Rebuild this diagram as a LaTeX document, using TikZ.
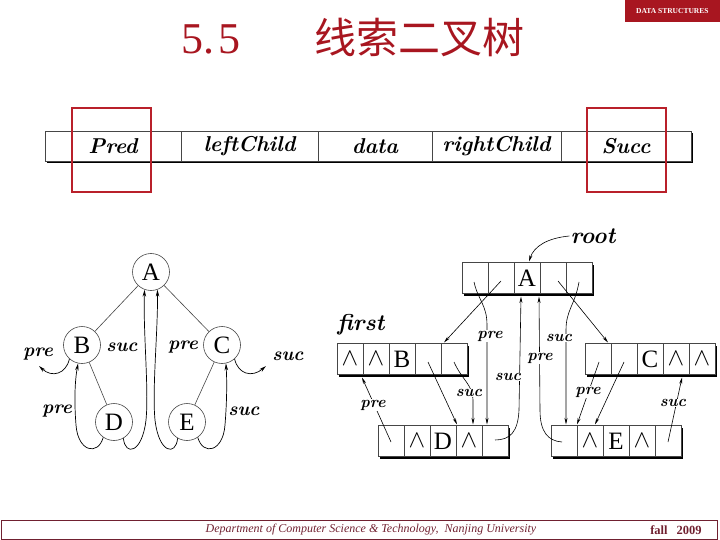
\documentclass[tikz,border=0pt]{standalone}
\usepackage{fontspec}
\newfontfamily\libserif{Liberation Serif}
\newfontfamily\cjk{Noto Sans CJK SC}
\usetikzlibrary{arrows.meta,calc}
\definecolor{titlered}{RGB}{168,22,32}
\definecolor{boxred}{RGB}{185,32,42}
\definecolor{footred}{RGB}{112,32,48}
\definecolor{linegray}{RGB}{70,70,70}
\newcommand\mywedge{{\fontsize{25}{25}\selectfont$\wedge$}}
\newcommand\myrec[8]{%
  \fill[black] (#2+2,#3-13.5) rectangle (#2+132,#3+17.5);
  \node[cell] (#1-1) at (#2,#3) {#4};
  \node[cell] (#1-2) at (#1-1.east) {#5};
  \node[cell] (#1-3) at (#1-2.east) {#6};
  \node[cell] (#1-4) at (#1-3.east) {#7};
  \node[cell] (#1-5) at (#1-4.east) {#8};
}
\begin{document}
\begin{tikzpicture}[x=1pt,y=-1pt,
  cell/.style={draw=linegray, line width=0.6pt, fill=white, anchor=west, outer sep=0pt,
    minimum width=26pt, minimum height=31pt, inner sep=0pt,
    font=\libserif\fontsize{25}{25}\selectfont},
  barcell/.style={draw=linegray, line width=0.6pt, fill=white, anchor=west, outer sep=0pt,
    minimum height=30pt, inner sep=0pt, font=\bfseries\itshape\fontsize{21.5}{21.5}\selectfont},
  redbox/.style={draw=boxred, line width=2.6pt, minimum width=79pt, minimum height=84pt, inner sep=0pt},
  circ/.style={circle, draw=linegray, line width=0.6pt, minimum size=37pt, inner sep=0pt,
    font=\libserif\fontsize{25}{25}\selectfont},
  tedge/.style={draw=linegray, line width=0.6pt},
  thr/.style={draw=black, line width=0.7pt, -{Stealth[length=7pt,width=3.5pt]}},
  rthr/.style={draw=black, line width=0.6pt, -{Stealth[length=6.5pt,width=3pt]}},
  tlbl/.style={font=\bfseries\itshape\fontsize{19}{19}\selectfont, inner sep=1pt},
  lbl/.style={font=\bfseries\itshape\fontsize{16}{16}\selectfont, inner sep=0.5pt, fill=white},
  biglbl/.style={font=\bfseries\itshape\fontsize{23}{23}\selectfont, inner sep=1pt}
]
\useasboundingbox (0,0) rectangle (720,540);

% header
\node[fill=titlered, anchor=north east, minimum width=95pt, minimum height=22pt, inner sep=0pt,
  text=white, font=\libserif\bfseries\fontsize{7.5}{7.5}\selectfont] (ds) at (720,0) {DATA STRUCTURES};
\node[text=titlered, font=\libserif\fontsize{44}{44}\selectfont] (t1) at (211,39) {5.\hspace{5pt}5};
\node[text=titlered, font=\cjk\fontsize{42}{42}\selectfont] (t2) at (419,38) {线索二叉树};

% record bar
\fill[black] (47,133) rectangle (693,163);
\node[barcell, minimum width=136pt] (f1) at (45,146) {Pred};
\node[barcell, minimum width=137pt] (f2) at (f1.east) {leftChild};
\node[barcell, minimum width=114pt] (f3) at (f2.east) {data};
\node[barcell, minimum width=129pt] (f4) at (f3.east) {rightChild};
\node[barcell, minimum width=130pt] (f5) at (f4.east) {Succ};
\node[redbox] (rb1) at (111.5,150) {};
\node[redbox] (rb2) at (626.5,150) {};

% left tree
\node[circ] (A) at (151,272) {A};
\node[circ] (B) at (82,345) {B};
\node[circ] (C) at (222,345) {C};
\node[circ] (D) at (114,422) {D};
\node[circ] (E) at (187,422) {E};
\draw[tedge] (A) -- (B);
\draw[tedge] (A) -- (C);
\draw[tedge] (B) -- (D);
\draw[tedge] (C) -- (E);
\coordinate (bp) at (39,366);
\coordinate (cs) at (266,366);
\draw[thr] (B.228) .. controls (66,374) and (52,378) .. (bp);
\draw[thr] (C.312) .. controls (238,374) and (252,378) .. (cs);
\draw[thr] (D.235) .. controls (98,456) and (78,452) .. (76,425) .. controls (74,400) and (75,380) .. (B.258);
\draw[thr] (D.300) .. controls (125,456) and (142,454) .. (146,420) .. controls (149,390) and (143,330) .. (A.250);
\draw[thr] (E.240) .. controls (176,456) and (159,454) .. (155,420) .. controls (152,390) and (158,330) .. (A.290);
\draw[thr] (E.305) .. controls (203,456) and (223,452) .. (225,425) .. controls (227,400) and (227,380) .. (C.282);
\node[tlbl] (l1) at (38,354) {pre};
\node[tlbl] (l2) at (122,347) {suc};
\node[tlbl] (l3) at (183,347) {pre};
\node[tlbl] (l4) at (288,356) {suc};
\node[tlbl] (l5) at (57,411) {pre};
\node[tlbl] (l6) at (244,411) {suc};

% right: threaded records
\myrec{rA}{462}{278}{}{}{A}{}{}
\myrec{rB}{337}{359}{\mywedge}{\mywedge}{B}{}{}
\myrec{rC}{585}{359}{}{}{C}{\mywedge}{\mywedge}
\myrec{rD}{378}{441}{}{\mywedge}{D}{\mywedge}{}
\myrec{rE}{551}{441}{}{\mywedge}{E}{\mywedge}{}

\node[biglbl] (root) at (593,236) {root};
\node[biglbl] (first) at (361,325) {f{}irst};
\draw[rthr] (root.west) .. controls (548,238) and (534,246) .. ($(rA-3.north)+(2,-1)$);

% child links
\draw[rthr] ($(rA-2.center)+(0,3)$) -- ($(rB-5.north)+(-10,-1)$);
\draw[rthr] ($(rA-4.center)+(5,3)$) -- ($(rC-1.north)+(10,-1)$);
\draw[rthr] ($(rB-4.center)+(0,3)$) -- ($(rD-4.north west)+(1,-1)$);
\draw[rthr] ($(rC-2.center)+(0,3)$) -- ($(rE-2.north)+(5,-1)$);

% threads
\draw[rthr] ($(rA-1.center)+(-1,4)$) .. controls (478,300) and (487,305) .. (487,325) -- ($(rD-5.north)+(-8,-1)$);
\draw[rthr] ($(rA-5.center)+(0,4)$) .. controls (575,305) and (566,310) .. (566,330) -- ($(rE-1.north)+(2,-1)$);
\draw[rthr] ($(rB-5.center)+(0,3)$) .. controls (462,380) and (473,385) .. (473,400) -- ($(rD-4.north)+(4,-1)$);
\draw[rthr] ($(rD-1.center)+(0,1)$) -- ($(rB-1.south east)+(-1,3)$);
\draw[rthr] ($(rD-5.center)+(0,-1)$) .. controls (510,440) and (518,432) .. (519,410) -- ($(rA-3.south)+(-6,3)$);
\draw[rthr] ($(rE-1.center)+(-2,1)$) .. controls (548,441) and (540,432) .. (540,410) -- ($(rA-3.south)+(12,3)$);
\draw[rthr] ($(rC-1.center)+(1,3)$) -- ($(rE-2.north)+(-13,-1)$);
\draw[rthr] ($(rE-5.center)+(0,1)$) -- ($(rC-4.south)+(6,3)$);

\node[lbl] (p1) at (490,336) {pre};
\node[lbl] (s1) at (559,338) {suc};
\node[lbl] (s2) at (469,393) {suc};
\node[lbl] (p2) at (373,405) {pre};
\node[lbl] (s3) at (508,377) {suc};
\node[lbl] (p3) at (540,358) {pre};
\node[lbl] (p4) at (588,392) {pre};
\node[lbl] (s4) at (673,403) {suc};

% footer
\node[draw=footred, line width=1.3pt, anchor=north west, minimum width=716pt, minimum height=19pt, inner sep=0pt] (foot) at (1,520) {};
\node[text=footred, font=\libserif\itshape\fontsize{12}{12}\selectfont] (dept) at (371,530) {Department of Computer Science \& Technology,\ \ Nanjing University};
\node[text=footred, font=\libserif\bfseries\fontsize{12.5}{12.5}\selectfont] (fall) at (676,530) {fall\hspace{9pt}2009};
\end{tikzpicture}
\end{document}
